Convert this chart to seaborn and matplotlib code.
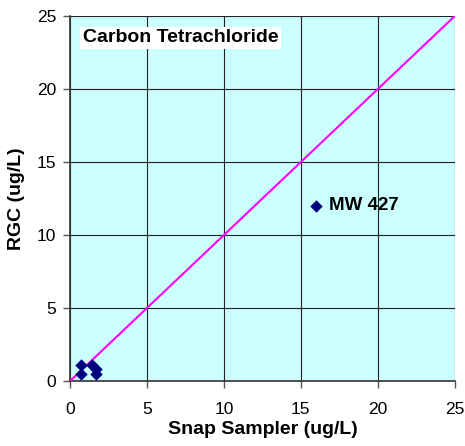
import numpy as np
import pandas as pd
import matplotlib
matplotlib.use("Agg")
import matplotlib.pyplot as plt
import seaborn as sns

snap = [0.7, 0.7, 1.4, 1.7, 1.7, 16.0]
rgc = [1.1, 0.5, 1.1, 0.8, 0.5, 12.0]
wells = ["", "", "", "", "", "MW 427"]
ticks = [0, 5, 10, 15, 20, 25]

df = pd.DataFrame({"snap": snap, "rgc": rgc, "well": wells})

sns.set_style("white")
plt.rcParams['font.family'] = ['Liberation Sans', 'DejaVu Sans']
plt.rcParams['text.color'] = 'black'

fig = plt.figure(figsize=(4.65, 4.46), dpi=100)
ax = fig.add_axes([0.1505, 0.1457, 0.8275, 0.8183])
ax.set_facecolor("#CCFFFF")

# 1:1 line
sns.lineplot(x=[0, 25], y=[0, 25], color="#FF00FF", linewidth=1.5, ax=ax, zorder=3)

sns.scatterplot(data=df, x="snap", y="rgc", marker="D", color="#000080",
                s=40, edgecolor="#000080", linewidth=0, ax=ax, zorder=4)

for _, r in df.iterrows():
    if r["well"]:
        ax.annotate(r["well"], (r["snap"], r["rgc"]), xytext=(9, 0),
                    textcoords="offset points", va="center", ha="left",
                    fontsize=13.5, fontweight="bold", color="black")

ax.text(0.85, 23.5, "Carbon Tetrachloride", fontsize=14, fontweight="bold",
        va="center", ha="left", color="black",
        bbox=dict(facecolor="white", edgecolor="none", pad=2))

ax.set_xlim(0, 25)
ax.set_ylim(0, 25)
ax.set_xticks(ticks)
ax.set_yticks(ticks)
ax.grid(True, color="#222222", linewidth=0.8)
ax.set_axisbelow(True)

for s in ["top", "right"]:
    ax.spines[s].set_visible(False)
for s in ["left", "bottom"]:
    ax.spines[s].set_color("#333333")
    ax.spines[s].set_linewidth(1.2)

ax.tick_params(axis="both", direction="out", length=5, width=1, colors="#555555",
               labelcolor="black", labelsize=12.5, left=True, bottom=True, pad=5)
ax.tick_params(axis="x", pad=10)
ax.set_xlabel("Snap Sampler (ug/L)", fontsize=14, fontweight="bold", labelpad=3,
              color="black")
ax.set_ylabel("RGC (ug/L)", fontsize=14, fontweight="bold", labelpad=8,
              color="black")

fig.savefig("out.png", dpi=100)
